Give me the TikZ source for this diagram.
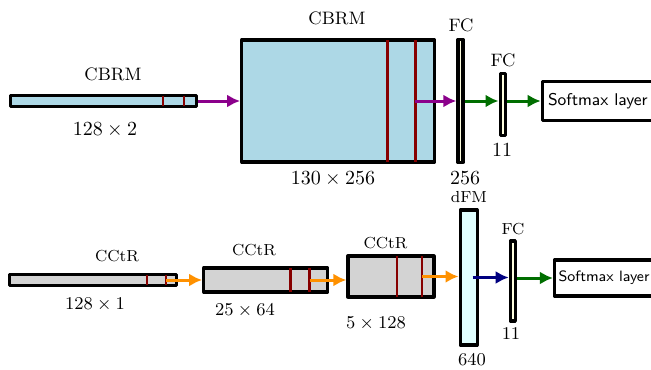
\documentclass[tikz,border=0pt]{standalone}
\usepackage{amsmath,amssymb}
\usepackage{tikz}
\usetikzlibrary{positioning,arrows.meta}

\definecolor{blockblue}{RGB}{173,216,230}
\definecolor{blockgray}{RGB}{211,211,211}
\definecolor{fcyellow}{RGB}{255,255,224}
\definecolor{fmcyan}{RGB}{224,255,255}
\definecolor{barred}{RGB}{135,0,0}
\definecolor{arrpurple}{RGB}{139,0,139}
\definecolor{arrgreen}{RGB}{0,110,0}
\definecolor{arrorange}{RGB}{255,145,0}
\definecolor{arrnavy}{RGB}{0,0,128}

\tikzset{
  layer/.style={draw, line width=1.6pt, line join=round, inner sep=0pt},
  smbox/.style={draw, line width=1.6pt, line join=round, fill=white, inner sep=2pt},
  redbar/.style={barred, line width=1.4pt, shorten <=1pt, shorten >=1pt},
  flow/.style={line width=1.5pt, -{Latex[length=6.5pt,width=6.5pt]}},
}

\begin{document}
\begin{tikzpicture}[x=0.5pt, y=-0.5pt]
\useasboundingbox (0,0) rectangle (651,369);
%----------------------------------
\node [layer, fill=blockblue, minimum width=93pt, minimum height=5.5pt] (b1) at (103.5,101) {};
\node [layer, fill=blockblue, minimum width=96.5pt, minimum height=61pt, right=21pt of b1] (b2) {};
\node [layer, fill=fcyellow, minimum width=2.5pt, minimum height=61.5pt, right=10pt of b2] (fc1) {};
\node [layer, fill=fcyellow, minimum width=2.5pt, minimum height=31pt, right=17pt of fc1, yshift=-1.75pt] (fc2) {};
\node [smbox, font=\fontsize{8.5}{10}\sffamily, minimum width=55.5pt, minimum height=19.5pt, right=17pt of fc2, yshift=1.75pt] (sm1) {Softmax layer};
\draw [redbar] ([xshift=77pt]b1.north west) -- ([xshift=77pt]b1.south west);
\draw [redbar] ([xshift=87.5pt]b1.north west) -- ([xshift=87.5pt]b1.south west);
\draw [redbar] ([xshift=73.5pt]b2.north west) -- ([xshift=73.5pt]b2.south west);
\draw [redbar] ([xshift=87.5pt]b2.north west) -- ([xshift=87.5pt]b2.south west);
\coordinate (b2r) at ([xshift=87.5pt]b2.west);
\draw [flow, arrpurple] (b1) -- (b2);
\draw [flow, arrpurple] (b2r) -- (fc1);
\draw [flow, arrgreen] (fc1) -- (fc1.east -| fc2.west);
\draw [flow, arrgreen] (sm1.west -| fc2.east) -- (sm1);
\node [font=\small] (t1) at (113,74) {CBRM};
\node (d1) at (105,130) {$128 \times 2$};
\node [font=\small] (t2) at (337,18) {CBRM};
\node (d2) at (333,179) {$130 \times 256$};
\node [font=\small] (t3) at (461,25) {FC};
\node (d3) at (465,178) {$256$};
\node [font=\small] (t4) at (503,60) {FC};
\node (d4) at (502,150) {$11$};
%----------------------------------
\node [layer, fill=blockgray, minimum width=83.5pt, minimum height=5.5pt] (c1) at (93,280) {};
\node [layer, fill=blockgray, minimum width=62pt, minimum height=12pt, right=12pt of c1] (c2) {};
\node [layer, fill=blockgray, minimum width=43pt, minimum height=20.5pt, right=8.5pt of c2, yshift=1.75pt] (c3) {};
\node [layer, fill=fmcyan, minimum width=8.5pt, minimum height=67.5pt, right=11.5pt of c3, yshift=-0.5pt] (fm) {};
\node [layer, fill=fcyellow, minimum width=2.5pt, minimum height=40pt, right=15pt of fm, yshift=-1.75pt] (fc3) {};
\node [smbox, font=\fontsize{7.5}{9}\sffamily, minimum width=49.5pt, minimum height=18pt, right=18pt of fc3, yshift=1.5pt] (sm2) {Softmax layer};
\draw [redbar] ([xshift=69.5pt]c1.north west) -- ([xshift=69.5pt]c1.south west);
\draw [redbar] ([xshift=79pt]c1.north west) -- ([xshift=79pt]c1.south west);
\draw [redbar] ([xshift=44.3pt]c2.north west) -- ([xshift=44.3pt]c2.south west);
\draw [redbar] ([xshift=53.7pt]c2.north west) -- ([xshift=53.7pt]c2.south west);
\draw [redbar] ([xshift=25.3pt]c3.north west) -- ([xshift=25.3pt]c3.south west);
\draw [redbar] ([xshift=37.8pt]c3.north west) -- ([xshift=37.8pt]c3.south west);
\coordinate (c1r) at ([xshift=79pt]c1.west);
\coordinate (c2r) at ([xshift=53.7pt]c2.west);
\coordinate (c3r) at ([xshift=37.8pt]c3.west);
\coordinate (fmc) at ([xshift=2pt]fm.center);
\draw [flow, arrorange] (c1r) -- (c2);
\draw [flow, arrorange] (c2r) -- (c2r -| c3.west);
\draw [flow, arrorange] (c3r) -- (c3r -| fm.west);
\draw [flow, arrnavy] (fmc) -- (fmc -| fc3.west);
\draw [flow, arrgreen] (sm2.west -| fc3.east) -- (sm2);
\node [font=\footnotesize] (t5) at (117,256) {CCtR};
\node [font=\small] (d5) at (95,305) {$128 \times 1$};
\node [font=\footnotesize] (t6) at (254,250) {CCtR};
\node [font=\small] (d6) at (245,311) {$25 \times 64$};
\node [font=\footnotesize] (t7) at (385.5,243) {CCtR};
\node [font=\small] (d7) at (376,324) {$5 \times 128$};
\node [font=\footnotesize] (t8) at (469,197.5) {dFM};
\node [font=\footnotesize] (t9) at (513,229) {FC};
\node [font=\small] (d8) at (511,333.5) {$11$};
\node [font=\small] (d9) at (472,360) {$640$};
\end{tikzpicture}
\end{document}
